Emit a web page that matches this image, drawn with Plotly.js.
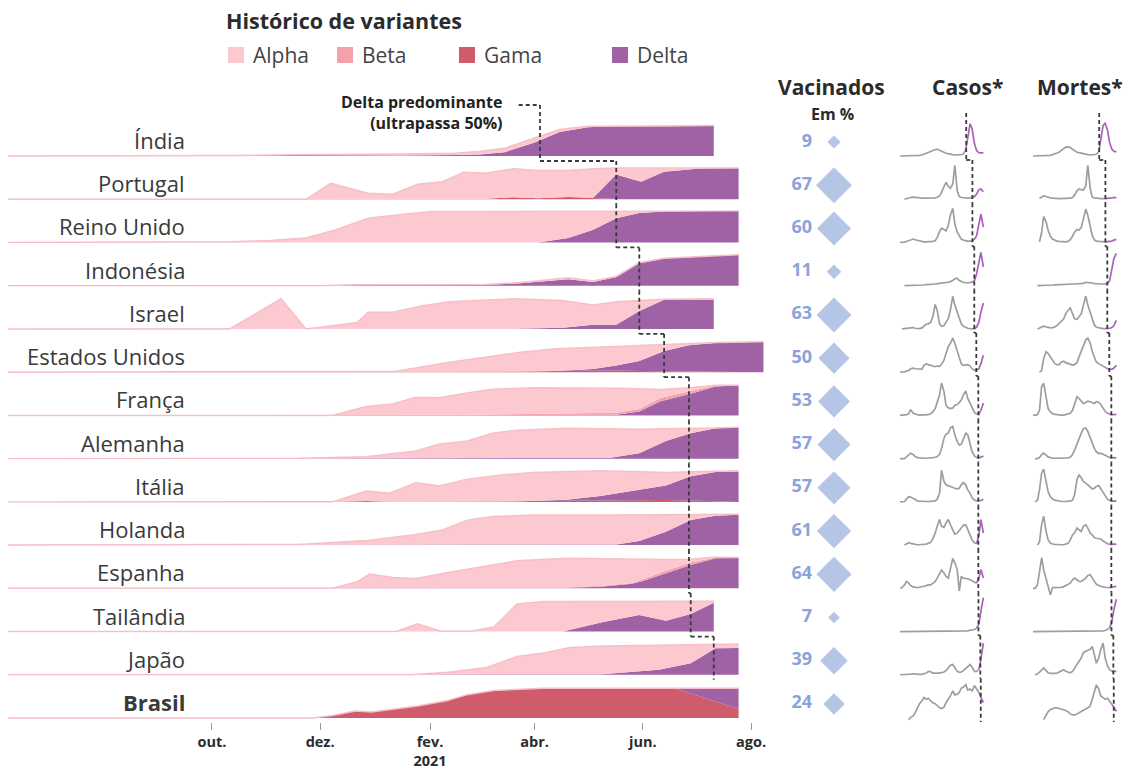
<!DOCTYPE html>
<html><head><meta charset="utf-8">
<script src="https://cdn.plot.ly/plotly-3.0.1.min.js"></script>
<style>html,body{margin:0;padding:0;background:#fff}#chart{width:1131px;height:772px}</style>
</head><body><div id="chart"></div>
<script>
// ---------------- DATA ----------------
const countries = ["Índia","Portugal","Reino Unido","Indonésia","Israel","Estados Unidos","França","Alemanha","Itália","Holanda","Espanha","Tailândia","Japão","Brasil"];
const vaccinated = [9,67,60,11,63,50,53,57,57,61,64,7,39,24];
// date when Delta passes 50% (main chart staircase); Brasil: never
const deltaDates = ['2021-04-04','2021-05-17','2021-05-17','2021-05-30','2021-05-30','2021-06-13','2021-06-27','2021-06-27','2021-06-27','2021-06-27','2021-06-27','2021-06-28','2021-07-11',null];
// date where the sparklines turn purple
const sparkSplit = ['2021-04-04','2021-05-17','2021-05-17','2021-05-30','2021-05-30','2021-06-13','2021-06-27','2021-06-27','2021-06-27','2021-06-27','2021-06-27','2021-06-28','2021-07-11','2021-07-14'];
const tickVals = ['2020-10-01','2020-12-01','2021-02-01','2021-04-01','2021-06-01','2021-08-01'];
const tickText = ['<b>out.</b>','<b>dez.</b>','<b>fev.</b><br><b>2021</b>','<b>abr.</b>','<b>jun.</b>','<b>ago.</b>'];
const variantNames = ['Alpha','Beta','Gama','Delta'];

// variant shares (fraction of sequences) per country
const IND_dates = ['2020-06-08','2020-10-01','2020-10-15','2020-11-15','2020-12-15','2021-01-15','2021-02-15','2021-03-01','2021-03-15','2021-04-01','2021-04-15','2021-05-01','2021-05-15','2021-06-15','2021-07-11'];
const IND_delta = [0,0,0.02,0.03,0.02,0.02,0.03,0.05,0.12,0.42,0.75,0.9,0.93,0.94,0.95];
const IND_alpha = [0,0,0,0.01,0.02,0.04,0.06,0.09,0.12,0.14,0.08,0.03,0.01,0,0];

const PRT_dates = ['2020-06-08','2020-11-23','2020-12-07','2020-12-28','2021-01-11','2021-01-25','2021-02-08','2021-02-20','2021-03-04','2021-03-20','2021-04-03','2021-04-20','2021-05-04','2021-05-17','2021-05-31','2021-06-13','2021-07-03','2021-07-25'];
const PRT_gama  = [0,0,0,0,0,0,0,0,0.02,0.06,0.03,0.07,0.03,0.01,0,0,0,0];
const PRT_delta = [0,0,0,0,0,0,0,0,0,0,0,0,0.02,0.76,0.55,0.86,0.96,0.97];
const PRT_alpha = [0,0,0.5,0.19,0.16,0.47,0.55,0.84,0.79,0.89,0.87,0.83,0.9,0.21,0.43,0.12,0.02,0.01];

const GBR_dates = ['2020-06-08','2020-10-11','2020-11-03','2020-11-23','2020-12-10','2020-12-28','2021-01-13','2021-02-02','2021-04-03','2021-04-20','2021-05-04','2021-05-17','2021-05-30','2021-06-13','2021-07-25'];
const GBR_delta = [0,0,0,0,0,0,0,0,0,0.14,0.4,0.76,0.92,0.97,0.99];
const GBR_alpha = [0,0.02,0.06,0.14,0.4,0.76,0.86,0.97,0.98,0.84,0.58,0.23,0.07,0.02,0];

const IDN_dates = ['2020-06-08','2020-12-01','2020-12-21','2021-03-04','2021-03-24','2021-04-20','2021-05-04','2021-05-17','2021-05-30','2021-06-13','2021-07-25'];
const IDN_delta = [0,0,0.02,0.03,0.08,0.2,0.12,0.27,0.7,0.85,0.97];
const IDN_alpha = [0,0,0.01,0.01,0.02,0.05,0.03,0.02,0.02,0.01,0];

const ISR_dates = ['2020-06-08','2020-10-11','2020-11-09','2020-11-23','2020-12-22','2020-12-28','2021-01-11','2021-01-27','2021-02-12','2021-03-04','2021-03-20','2021-04-17','2021-05-04','2021-05-17','2021-05-30','2021-06-13','2021-07-11'];
const ISR_delta = [0,0,0,0,0,0,0,0,0,0,0.01,0.04,0.13,0.13,0.56,0.91,0.92];
const ISR_alpha = [0,0,0.94,0,0.2,0.52,0.52,0.72,0.85,0.91,0.93,0.85,0.62,0.72,0.33,0.02,0.02];

const USA_dates = ['2020-06-08','2020-10-01','2021-01-13','2021-02-12','2021-03-04','2021-03-24','2021-04-13','2021-04-24','2021-05-04','2021-05-17','2021-05-30','2021-06-13','2021-06-27','2021-07-13','2021-08-08'];
const USA_gama  = [0,0,0,0,0,0.02,0.04,0.05,0.05,0.05,0.04,0.03,0.01,0,0];
const USA_delta = [0,0,0,0,0,0,0,0.02,0.05,0.16,0.31,0.63,0.83,0.92,0.95];
const USA_alpha = [0,0.01,0.03,0.31,0.47,0.6,0.69,0.69,0.68,0.59,0.48,0.2,0.04,0.01,0];

const FRA_dates = ['2020-06-08','2020-12-08','2020-12-27','2021-01-11','2021-01-24','2021-02-06','2021-02-22','2021-03-08','2021-03-31','2021-05-08','2021-05-17','2021-05-30','2021-06-11','2021-06-28','2021-07-12','2021-07-25'];
const FRA_gama  = [0,0,0.01,0.02,0.02,0.02,0.02,0.02,0.02,0.02,0.02,0.02,0.02,0.02,0.01,0.01];
const FRA_delta = [0,0,0,0,0,0,0,0,0,0,0,0.1,0.42,0.66,0.89,0.92];
const FRA_beta  = [0,0,0,0,0,0,0,0.01,0.02,0.05,0.06,0.08,0.1,0.08,0.03,0.01];
const FRA_alpha = [0,0,0.27,0.34,0.55,0.53,0.68,0.79,0.82,0.79,0.77,0.63,0.27,0.1,0.01,0];

const DEU_dates = ['2020-06-08','2020-09-30','2020-11-19','2020-12-27','2021-01-24','2021-02-06','2021-02-22','2021-03-08','2021-03-22','2021-04-19','2021-05-13','2021-05-30','2021-06-14','2021-06-28','2021-07-12','2021-07-25'];
const DEU_delta = [0,0,0,0,0,0,0,0,0,0,0.02,0.17,0.55,0.79,0.95,0.97];
const DEU_alpha = [0,0,0.01,0.06,0.24,0.45,0.55,0.79,0.89,0.95,0.91,0.75,0.38,0.15,0.01,0.02];

const ITA_dates = ['2020-06-08','2020-12-08','2020-12-27','2021-01-09','2021-01-24','2021-02-06','2021-02-22','2021-03-12','2021-03-31','2021-04-19','2021-05-08','2021-05-26','2021-06-14','2021-06-28','2021-07-12','2021-07-25'];
const ITA_gama  = [0,0,0,0,0,0,0,0.01,0.03,0.04,0.06,0.07,0.06,0.04,0.01,0];
const ITA_delta = [0,0,0.03,0,0,0,0,0,0,0.03,0.12,0.27,0.45,0.76,0.92,0.95];
const ITA_alpha = [0,0,0.31,0.27,0.6,0.5,0.71,0.82,0.89,0.88,0.79,0.61,0.41,0.14,0.03,0.02];

const NLD_dates = ['2020-06-08','2020-09-30','2020-11-19','2020-12-27','2021-01-24','2021-02-08','2021-02-22','2021-03-08','2021-03-31','2021-05-17','2021-05-30','2021-06-14','2021-06-28','2021-07-12','2021-07-25'];
const NLD_delta = [0,0,0,0,0,0,0,0,0,0.02,0.13,0.42,0.78,0.92,0.95];
const NLD_alpha = [0,0,0.02,0.14,0.33,0.47,0.78,0.89,0.94,0.92,0.81,0.52,0.17,0.03,0.01];

const ESP_dates = ['2020-06-08','2020-12-08','2020-12-22','2020-12-29','2021-01-11','2021-01-24','2021-02-12','2021-03-03','2021-03-22','2021-04-19','2021-05-08','2021-05-26','2021-06-01','2021-06-14','2021-06-28','2021-07-12','2021-07-25'];
const ESP_gama  = [0,0,0,0,0,0,0,0.02,0.02,0.02,0.02,0.02,0.02,0.02,0.02,0,0];
const ESP_delta = [0,0,0,0,0,0,0,0,0,0,0.03,0.12,0.21,0.45,0.71,0.94,0.95];
const ESP_beta  = [0,0,0,0,0,0,0,0,0,0.01,0.02,0.03,0.05,0.08,0.08,0.02,0.01];
const ESP_alpha = [0,0,0.21,0.45,0.34,0.31,0.5,0.67,0.84,0.91,0.85,0.73,0.62,0.35,0.1,0.02,0];

const THA_dates = ['2020-06-08','2021-01-13','2021-01-25','2021-02-07','2021-02-24','2021-03-09','2021-03-22','2021-04-06','2021-04-17','2021-05-09','2021-05-30','2021-06-14','2021-06-28','2021-07-11'];
const THA_delta = [0,0,0,0,0,0,0,0,0,0.29,0.52,0.34,0.55,0.9];
const THA_alpha = [0,0,0.24,0.01,0.01,0.14,0.86,0.94,0.94,0.65,0.42,0.6,0.39,0.05];

const JPN_dates = ['2020-06-08','2021-01-21','2021-02-11','2021-03-05','2021-03-22','2021-04-06','2021-04-21','2021-05-09','2021-06-10','2021-06-28','2021-07-12','2021-07-25'];
const JPN_delta = [0,0,0,0,0,0,0,0.02,0.16,0.36,0.83,0.84];
const JPN_alpha = [0,0,0.08,0.23,0.57,0.68,0.85,0.88,0.76,0.57,0.11,0.12];

const BRA_dates = ['2020-06-08','2020-11-27','2020-12-08','2020-12-21','2020-12-30','2021-01-25','2021-02-11','2021-02-22','2021-03-09','2021-04-06','2021-06-19','2021-07-25'];
const BRA_gama  = [0,0,0.08,0.22,0.19,0.375,0.55,0.73,0.86,0.93,0.93,0.28];
const BRA_delta = [0,0,0,0,0,0,0,0,0,0,0,0.65];
const BRA_alpha = [0,0,0,0,0,0,0,0,0,0,0,0];

// sparklines: cases and deaths (relative to own peak), semi-monthly
const sparkDates = ['2020-01-01','2020-01-15','2020-02-01','2020-02-15','2020-03-01','2020-03-15','2020-04-01','2020-04-15','2020-05-01','2020-05-15','2020-06-01','2020-06-15','2020-07-01','2020-07-15','2020-08-01','2020-08-15','2020-09-01','2020-09-15','2020-10-01','2020-10-15','2020-11-01','2020-11-15','2020-12-01','2020-12-15','2021-01-01','2021-01-15','2021-02-01','2021-02-15','2021-03-01','2021-03-15','2021-04-01','2021-04-15','2021-05-01','2021-05-15','2021-06-01','2021-06-15','2021-07-01','2021-07-15','2021-08-01'];

const casos_IND = [0,0,0,0,0,0,0,0.005, 0.01,0.02,0.03,0.05,0.07,0.1,0.13,0.16, 0.19,0.2,0.17,0.14,0.1,0.08,0.07,0.05, 0.04,0.03,0.03,0.03,0.04,0.06,0.18,0.5, 0.95,0.8,0.35,0.16,0.1,0.09,0.09];
const mortes_IND = [0,0,0,0,0,0,0.005,0.01, 0.02,0.04,0.06,0.09,0.12,0.17,0.22,0.26, 0.27,0.25,0.2,0.15,0.11,0.1,0.08,0.06, 0.05,0.04,0.03,0.03,0.03,0.05,0.12,0.45, 0.9,0.96,0.75,0.4,0.2,0.14,0.12];
const casos_PRT = [null,null,0,0.02,0.03,0.05,0.06,0.05, 0.04,0.03,0.03,0.03,0.03,0.03,0.02,0.03, 0.04,0.06,0.1,0.2,0.38,0.5,0.38,0.32, 0.45,1.0,0.25,0.08,0.05,0.04,0.03,0.03, 0.04,0.05,0.08,0.15,0.28,0.3,0.22];
const mortes_PRT = [null,null,null,0.02,0.06,0.1,0.08,0.05, 0.04,0.03,0.02,0.02,0.02,0.02,0.02,0.02, 0.02,0.03,0.05,0.12,0.25,0.3,0.28,0.27, 0.4,1.0,0.3,0.06,0.04,0.03,0.02,0.02, 0.02,0.02,0.02,0.03,0.04,0.05,0.05];
const casos_GBR = [0,0,0.01,0.03,0.06,0.09,0.1,0.08, 0.06,0.04,0.03,0.02,0.02,0.02,0.02,0.03, 0.05,0.15,0.32,0.42,0.38,0.34,0.5,0.8, 1.0,0.55,0.3,0.18,0.1,0.07,0.05,0.04, 0.04,0.04,0.1,0.2,0.5,0.83,0.45];
const mortes_GBR = [null,null,null,0.02,0.3,0.76,0.6,0.35, 0.18,0.1,0.06,0.04,0.03,0.02,0.02,0.02, 0.03,0.08,0.18,0.3,0.38,0.36,0.45,0.7, 0.98,0.8,0.45,0.2,0.08,0.04,0.03,0.02, 0.02,0.02,0.02,0.03,0.04,0.07,0.09];
const casos_IDN = [null,null,0,0,0,0.005,0.01,0.01, 0.01,0.015,0.02,0.02,0.03,0.03,0.03,0.04, 0.05,0.06,0.07,0.07,0.07,0.08,0.1,0.12, 0.15,0.2,0.22,0.15,0.12,0.1,0.09,0.08, 0.1,0.1,0.15,0.35,0.75,0.98,0.55];
const mortes_IDN = [null,null,0,0,0.005,0.01,0.015,0.02, 0.02,0.02,0.025,0.03,0.03,0.035,0.04,0.045, 0.05,0.05,0.05,0.05,0.05,0.05,0.06,0.07, 0.1,0.1,0.1,0.08,0.06,0.05,0.05,0.05, 0.05,0.05,0.07,0.15,0.45,0.8,0.95];
const casos_ISR = [null,0,0.01,0.02,0.03,0.05,0.04,0.02, 0.01,0.01,0.03,0.08,0.14,0.15,0.2,0.35, 0.72,0.55,0.15,0.08,0.1,0.2,0.3,0.55, 0.96,0.7,0.5,0.35,0.15,0.08,0.04,0.02, 0.01,0.005,0.01,0.05,0.2,0.5,0.76];
const mortes_ISR = [null,null,0,0.02,0.05,0.08,0.06,0.04, 0.03,0.04,0.06,0.1,0.18,0.22,0.3,0.45, 0.55,0.62,0.45,0.3,0.28,0.35,0.45,0.7, 0.96,0.7,0.5,0.3,0.12,0.05,0.03,0.02, 0.01,0.01,0.01,0.02,0.04,0.1,0.25];
const casos_USA = [0,0,0.01,0.03,0.05,0.1,0.12,0.1, 0.09,0.08,0.09,0.2,0.25,0.22,0.2,0.18, 0.16,0.18,0.17,0.23,0.35,0.55,0.75,0.85, 1.0,0.85,0.6,0.4,0.25,0.2,0.22,0.22, 0.18,0.1,0.05,0.05,0.1,0.25,0.5];
const mortes_USA = [null,null,null,0,0.05,0.4,0.6,0.55, 0.45,0.33,0.25,0.22,0.22,0.3,0.32,0.28, 0.25,0.22,0.21,0.22,0.28,0.45,0.62,0.8, 0.95,1.0,0.85,0.6,0.45,0.3,0.25,0.22, 0.18,0.15,0.1,0.08,0.08,0.12,0.2];
const casos_FRA = [0,0,0,0.02,0.05,0.17,0.06,0.03, 0.02,0.01,0.01,0.01,0.01,0.02,0.05,0.1, 0.2,0.4,0.6,0.95,0.7,0.3,0.22,0.2, 0.22,0.3,0.32,0.38,0.45,0.6,0.72,0.5, 0.35,0.2,0.08,0.04,0.03,0.15,0.36];
const mortes_FRA = [0,0,0.02,0.15,0.85,0.95,0.55,0.2, 0.1,0.05,0.03,0.02,0.01,0.01,0.01,0.02, 0.03,0.06,0.15,0.35,0.55,0.5,0.4,0.35, 0.38,0.42,0.4,0.38,0.35,0.4,0.38,0.32, 0.22,0.12,0.06,0.03,0.02,0.02,0.03];
const casos_DEU = [0,0,0,0.05,0.12,0.16,0.12,0.06, 0.03,0.02,0.01,0.01,0.01,0.01,0.02,0.03, 0.04,0.06,0.12,0.3,0.6,0.72,0.75,0.9, 0.95,0.7,0.5,0.4,0.42,0.6,0.75,0.7, 0.45,0.2,0.08,0.03,0.02,0.04,0.08];
const mortes_DEU = [null,0,0,0.03,0.12,0.16,0.1,0.05, 0.03,0.01,0.01,0.01,0.01,0.01,0.01,0.02, 0.02,0.04,0.12,0.25,0.45,0.62,0.75,0.88, 0.9,0.8,0.6,0.4,0.3,0.2,0.15,0.16, 0.14,0.1,0.06,0.03,0.02,0.02,0.02];
const casos_ITA = [0,0,0.01,0.08,0.15,0.14,0.1,0.06, 0.03,0.02,0.01,0.01,0.01,0.01,0.01,0.02, 0.03,0.08,0.25,0.93,0.6,0.5,0.47,0.45, 0.42,0.4,0.38,0.4,0.5,0.57,0.5,0.35, 0.25,0.12,0.05,0.03,0.03,0.04,0.08];
const mortes_ITA = [null,0,0.05,0.35,0.85,0.96,0.6,0.3, 0.15,0.08,0.05,0.03,0.02,0.01,0.01,0.01, 0.01,0.02,0.05,0.2,0.65,0.8,0.7,0.6, 0.55,0.5,0.42,0.38,0.4,0.45,0.48,0.38, 0.25,0.15,0.07,0.04,0.02,0.02,0.02];
const casos_NLD = [null,null,0,0.04,0.07,0.05,0.03,0.02, 0.01,0.01,0.01,0.02,0.03,0.05,0.08,0.18, 0.35,0.55,0.75,0.55,0.52,0.65,0.75,0.6, 0.45,0.32,0.35,0.42,0.5,0.58,0.6,0.45, 0.3,0.15,0.07,0.04,0.3,0.75,0.35];
const mortes_NLD = [null,null,0,0.1,0.6,0.85,0.4,0.15, 0.06,0.03,0.02,0.01,0.01,0.01,0.01,0.02, 0.05,0.15,0.3,0.36,0.5,0.45,0.4,0.55, 0.6,0.5,0.35,0.3,0.22,0.2,0.2,0.18, 0.12,0.08,0.04,0.02,0.02,0.02,0.03];
const casos_ESP = [0,0.02,0.1,0.2,0.15,0.08,0.04,0.02, 0.02,0.03,0.04,0.06,0.08,0.1,0.1,0.15, 0.2,0.3,0.45,0.54,0.45,0.35,0.3,0.55, 0.88,0.75,0.55,-0.08,0.35,0.3,0.3,0.28, 0.25,0.22,0.2,0.15,0.3,0.55,0.3];
const mortes_ESP = [0,0,0.1,0.5,0.9,0.55,0.25,0.08, -0.2,0.02,0.02,0.02,0.02,0.03,0.05,0.08, 0.1,0.15,0.25,0.3,0.25,0.2,0.2,0.25, 0.3,0.38,0.4,0.3,0.2,0.12,0.08,0.05, 0.04,0.03,0.02,0.02,0.03,0.05,0.06];
const casos_THA = [0,0,0,0,0,0,0,0, 0,0,0,0,0,0,0,0, 0,0,0,0,0,0,0,0, 0.01,0.01,0.01,0.01,0.01,0.01,0.01,0.02, 0.04,0.05,0.06,0.1,0.22,0.6,1.0];
const mortes_THA = [0,0,0,0,0,0,0,0, 0,0,0,0,0,0,0,0, 0,0,0,0,0,0,0,0, 0,0,0,0,0,0,0,0.01, 0.02,0.03,0.06,0.1,0.3,0.65,0.95];
const casos_JPN = [0,0,0,0,0.01,0.02,0.03,0.02, 0.01,0.01,0.01,0.02,0.05,0.1,0.09,0.05, 0.04,0.05,0.05,0.06,0.08,0.12,0.2,0.28, 0.3,0.2,0.1,0.07,0.08,0.12,0.18,0.25, 0.3,0.22,0.1,0.1,0.15,0.45,0.93];
const mortes_JPN = [null,0,0.02,0.08,0.15,0.2,0.12,0.06, 0.04,0.03,0.04,0.05,0.08,0.12,0.15,0.1, 0.07,0.06,0.1,0.2,0.3,0.4,0.5,0.65, 0.7,0.72,0.75,0.83,0.6,0.34,0.5,0.75, 0.93,0.5,0.25,0.15,0.1,0.1,0.1];
const casos_BRA = [null,null,null,null,-0.05,0.02,0.06,0.15, 0.3,0.42,0.5,0.6,0.55,0.58,0.5,0.45, 0.42,0.35,0.3,0.28,0.32,0.45,0.55,0.65, 0.8,0.68,0.7,0.75,0.88,0.9,0.98,0.82, 0.85,0.8,0.95,0.85,0.75,0.6,0.45];
const mortes_BRA = [null,null,null,null,null,-0.05,0.1,0.19, 0.25,0.28,0.3,0.3,0.28,0.27,0.25,0.22, 0.18,0.12,0.09,0.09,0.12,0.15,0.18,0.22, 0.25,0.3,0.35,0.55,0.8,0.97,0.85,0.65, 0.6,0.55,0.58,0.5,0.4,0.3,0.2];

// ---------------- ASSEMBLY ----------------
const areaData = [
  {dates:IND_dates, alpha:IND_alpha, delta:IND_delta},
  {dates:PRT_dates, alpha:PRT_alpha, delta:PRT_delta, gama:PRT_gama},
  {dates:GBR_dates, alpha:GBR_alpha, delta:GBR_delta},
  {dates:IDN_dates, alpha:IDN_alpha, delta:IDN_delta},
  {dates:ISR_dates, alpha:ISR_alpha, delta:ISR_delta},
  {dates:USA_dates, alpha:USA_alpha, delta:USA_delta, gama:USA_gama},
  {dates:FRA_dates, alpha:FRA_alpha, delta:FRA_delta, gama:FRA_gama, beta:FRA_beta},
  {dates:DEU_dates, alpha:DEU_alpha, delta:DEU_delta},
  {dates:ITA_dates, alpha:ITA_alpha, delta:ITA_delta, gama:ITA_gama},
  {dates:NLD_dates, alpha:NLD_alpha, delta:NLD_delta},
  {dates:ESP_dates, alpha:ESP_alpha, delta:ESP_delta, gama:ESP_gama, beta:ESP_beta},
  {dates:THA_dates, alpha:THA_alpha, delta:THA_delta},
  {dates:JPN_dates, alpha:JPN_alpha, delta:JPN_delta},
  {dates:BRA_dates, alpha:BRA_alpha, delta:BRA_delta, gama:BRA_gama}
];
const casos = [casos_IND,casos_PRT,casos_GBR,casos_IDN,casos_ISR,casos_USA,casos_FRA,casos_DEU,casos_ITA,casos_NLD,casos_ESP,casos_THA,casos_JPN,casos_BRA];
const mortes = [mortes_IND,mortes_PRT,mortes_GBR,mortes_IDN,mortes_ISR,mortes_USA,mortes_FRA,mortes_DEU,mortes_ITA,mortes_NLD,mortes_ESP,mortes_THA,mortes_JPN,mortes_BRA];

const W = 1131, H = 772;
const pf = px => 1 - px / H;
const base = i => 156 + 43.23 * i;
const FONT = "'Open Sans', 'Noto Sans', sans-serif";
const colors = {alpha:'#fdc9d0', beta:'#f5a1ac', gama:'#cf5b6b', delta:'#9e62a5'};
const GRAY = '#9e9e9e', PURPLE = '#a962b8', DASH = '#3a3a3a';
const DASHLINE = {color:DASH, width:1.8, dash:'4px,3px'};

const traces = [];
const layout = {
  width: W, height: H, margin:{l:0,r:0,t:0,b:0},
  paper_bgcolor:'#fff', plot_bgcolor:'rgba(0,0,0,0)',
  showlegend:false, font:{family:FONT, color:'#333'},
  shapes:[], annotations:[]
};

// main x axis
layout.xaxis = {
  type:'date', domain:[8/W, 770/W], range:['2020-06-08','2021-08-11 17:00'],
  anchor:'free', position:pf(722), showgrid:false, zeroline:false, showline:false,
  ticks:'outside', ticklen:7, tickwidth:1, tickcolor:'#9a9a9a',
  tickmode:'array', tickvals:tickVals, ticktext:tickText,
  tickfont:{family:FONT, size:14.5, color:'#2b2b2b'}, tickangle:0, fixedrange:true
};
layout.xaxis2 = {type:'date', domain:[900/W, 990/W], range:['2020-01-01','2021-09-16'], visible:false, anchor:'y15', fixedrange:true};
layout.xaxis3 = {type:'date', domain:[1033/W, 1123/W], range:['2020-01-01','2021-09-16'], visible:false, anchor:'y15', fixedrange:true};
layout.xaxis4 = {domain:[812/W, 834/W], range:[0,1], visible:false, anchor:'y29', fixedrange:true};

const order = ['gama','delta','beta','alpha'];
areaData.forEach((c, i) => {
  const b = base(i);
  const yName = i === 0 ? 'y' : 'y' + (i + 1);
  layout[i === 0 ? 'yaxis' : 'yaxis' + (i + 1)] = {
    domain:[pf(b + 1), pf(b - 32)], range:[-0.03, 1], visible:false, fixedrange:true, anchor:'x'
  };
  order.forEach(v => {
    if (!c[v]) return;
    traces.push({
      type:'scatter', mode:'lines', x:c.dates, y:c[v], xaxis:'x', yaxis:yName,
      stackgroup:'s' + i, name:v,
      line:{width: v === 'alpha' ? 1.5 : 0, color: v === 'alpha' ? '#f7bfc8' : colors[v]},
      fillcolor: colors[v], hoverinfo:'skip'
    });
  });
  // country label
  layout.annotations.push({
    xref:'paper', yref:'paper', x:187/W, y:pf(b - 16), xanchor:'right', yanchor:'middle',
    text: i === countries.length - 1 ? '<b>' + countries[i] + '</b>' : countries[i],
    showarrow:false, font:{family:FONT, size:22, color:'#3a3a3a'}
  });
  // sparklines axis
  const sy = 15 + i;
  layout['yaxis' + sy] = {domain:[pf(b + 7), pf(b - 36)], range:[-7/34, 36/34], visible:false, fixedrange:true, anchor:'x2'};
  [[casos[i], 'x2'], [mortes[i], 'x3']].forEach(([series, xa]) => {
    const split = sparkSplit[i];
    const gx = [], gy = [], px = [], py = [];
    let last = 0;
    sparkDates.forEach((d, k) => { if (d <= split) { gx.push(d); gy.push(series[k]); last = k; } });
    for (let k = last; k < sparkDates.length; k++) { px.push(sparkDates[k]); py.push(series[k]); }
    traces.push({type:'scatter', mode:'lines', x:gx, y:gy, xaxis:xa, yaxis:'y' + sy, line:{color:GRAY, width:1.7}, hoverinfo:'skip'});
    traces.push({type:'scatter', mode:'lines', x:px, y:py, xaxis:xa, yaxis:'y' + sy, line:{color:PURPLE, width:1.7}, hoverinfo:'skip'});
  });
  // sparkline dashed separators
  ['x2','x3'].forEach(xa => {
    const top = i === 0 ? 113 : base(i - 1) + 4;
    const bot = base(i) + 4;
    layout.shapes.push({type:'line', xref:xa, yref:'paper', x0:sparkSplit[i], x1:sparkSplit[i], y0:pf(top), y1:pf(bot), line:DASHLINE});
    if (i > 0) layout.shapes.push({type:'line', xref:xa, yref:'paper', x0:sparkSplit[i-1], x1:sparkSplit[i], y0:pf(top), y1:pf(top), line:DASHLINE});
  });
});

// main staircase: "Delta predominante"
(function(){
  const d0 = new Date(deltaDates[0]); d0.setDate(d0.getDate() - 12);
  const lead = d0.toISOString().slice(0,10);
  layout.shapes.push({type:'line', xref:'x', yref:'paper', x0:lead, x1:deltaDates[0], y0:pf(105), y1:pf(105), line:DASHLINE});
  let prevY = 105;
  deltaDates.forEach((d, i) => {
    if (!d) return;
    const bot = base(i) + 5;
    if (i > 0 && deltaDates[i-1]) layout.shapes.push({type:'line', xref:'x', yref:'paper', x0:deltaDates[i-1], x1:d, y0:pf(prevY), y1:pf(prevY), line:DASHLINE});
    layout.shapes.push({type:'line', xref:'x', yref:'paper', x0:d, x1:d, y0:pf(prevY), y1:pf(bot), line:DASHLINE});
    prevY = bot;
  });
})();
layout.annotations.push({xref:'paper', yref:'paper', x:505/W, y:pf(113), xanchor:'right', yanchor:'middle', align:'right',
  text:'<b>Delta predominante</b><br><b>(ultrapassa 50%)</b>', showarrow:false, font:{family:FONT, size:16, color:'#222'}});

// vaccinated column
layout.yaxis29 = {type:'category', categoryarray:countries, categoryorder:'array',
  domain:[pf(base(13) - 14 + 21.6), pf(base(0) - 14 - 21.6)], range:[13.5, -0.5], visible:false, fixedrange:true, anchor:'x4'};
traces.push({type:'scatter', mode:'text', x:countries.map(() => 0), y:countries, xaxis:'x4', yaxis:'y29',
  text:vaccinated.map(v => '<b>' + v + '</b>'), textposition:'middle left', cliponaxis:false,
  textfont:{family:FONT, size:18, color:'#8ba3d8'}, hoverinfo:'skip'});
traces.push({type:'scatter', mode:'markers', x:countries.map(() => 1), y:countries, xaxis:'x4', yaxis:'y29',
  marker:{symbol:'diamond', size:vaccinated, sizemode:'area', sizeref:0.1747, color:'#96acda', line:{width:0}},
  cliponaxis:false, hoverinfo:'skip'});

// headers
const hdr = (txt, x, y, size) => layout.annotations.push({xref:'paper', yref:'paper', x:x/W, y:pf(y), xanchor:'center', yanchor:'middle', text:'<b>' + txt + '</b>', showarrow:false, font:{family:FONT, size:size, color:'#2b2b2b'}});
hdr('Vacinados', 831, 87, 21);
hdr('Em %', 832, 114, 16);
hdr('Casos*', 967, 87, 21);
hdr('Mortes*', 1080, 87, 21);

// title + legend
layout.annotations.push({xref:'paper', yref:'paper', x:224/W, y:pf(21), xanchor:'left', yanchor:'middle', text:'<b>Histórico de variantes</b>', showarrow:false, font:{family:FONT, size:21.5, color:'#2b2b2b'}});
const legendX = [228, 337, 459, 612];
const legendColors = [colors.alpha, colors.beta, colors.gama, colors.delta];
variantNames.forEach((n, k) => {
  layout.shapes.push({type:'rect', xref:'paper', yref:'paper', x0:legendX[k]/W, x1:(legendX[k]+16)/W, y0:pf(63), y1:pf(47), fillcolor:legendColors[k], line:{width:0}});
  layout.annotations.push({xref:'paper', yref:'paper', x:(legendX[k]+23)/W, y:pf(55), xanchor:'left', yanchor:'middle', text:n, showarrow:false, font:{family:FONT, size:21, color:'#444'}});
});

Plotly.newPlot('chart', traces, layout, {displayModeBar:false, staticPlot:true});
</script></body></html>
